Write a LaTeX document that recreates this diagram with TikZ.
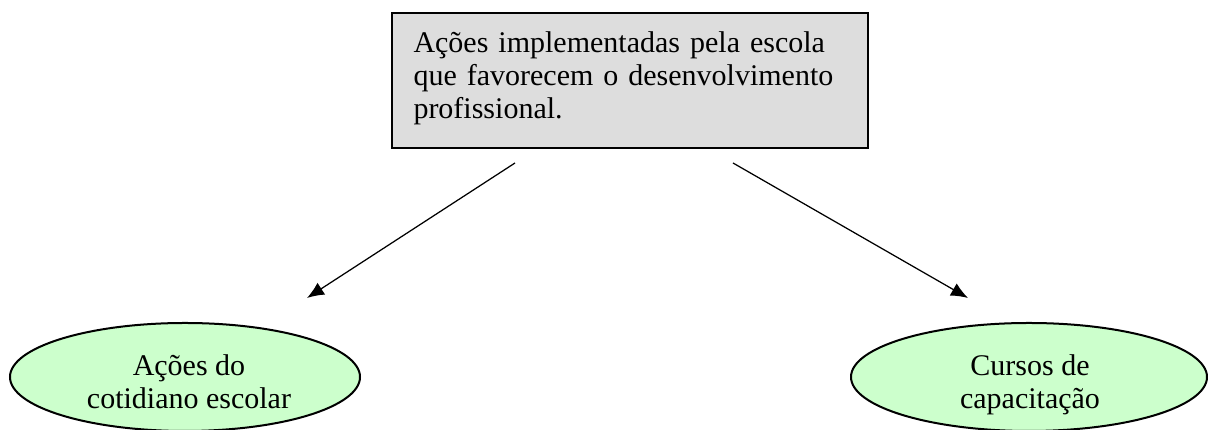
\documentclass[tikz,border=0pt]{standalone}
\usepackage{fontspec}
\setmainfont{Liberation Serif}
\usetikzlibrary{shapes.geometric, arrows.meta}

\definecolor{boxgray}{HTML}{DDDDDD}
\definecolor{ellgreen}{HTML}{CCFFCC}

\tikzset{
	graybox/.style = {draw = black, line width = .8pt, fill = boxgray, minimum width = 190.4pt, minimum height = 54pt, inner sep = 0pt},
	boxtext/.style = {text width = 172.8pt, align = left, inner sep = 0pt, font = \fontsize{12}{13.2}\selectfont},
	greenell/.style = {ellipse, draw = black, line width = .8pt, fill = ellgreen, minimum width = 140pt, minimum height = 43.2pt, inner sep = 0pt},
	elltext/.style = {align = center, inner sep = 0pt, font = \fontsize{12}{13.2}\selectfont},
	seta/.style = {-{Latex[length = 6.8pt, width = 5.6pt]}, line width = .5pt}
}

\begin{document}
\begin{tikzpicture}[x = 0.4pt, y = -0.4pt]
	\useasboundingbox (0, 0) rectangle (1208, 430);
	
	% quadro de cima
	\node [graybox] (acoes) at (630, 80.5) {};
	\node [boxtext, anchor = north west] (acoestxt) at (413, 31) {%
		\makebox[\linewidth][s]{Ações implementadas pela escola}\\
		\makebox[\linewidth][s]{que favorecem o desenvolvimento}\\
		profissional.};
	
	% elipses
	\node [greenell] (cotidiano) at (185, 377) {};
	\node [elltext, anchor = north] (cotidianotxt) at (189, 354) {Ações do\\cotidiano escolar};
	\node [greenell, minimum width = 142.4pt] (cursos) at (1029, 377) {};
	\node [elltext, anchor = north] (cursostxt) at (1030, 354) {Cursos de\\capacitação};
	
	% setas
	\coordinate (esqA) at (515, 163);
	\coordinate (esqB) at (307, 298);
	\coordinate (dirA) at (733, 163);
	\coordinate (dirB) at (968, 298);
	\draw [seta] (esqA) -- (esqB);
	\draw [seta] (dirA) -- (dirB);
\end{tikzpicture}
\end{document}
